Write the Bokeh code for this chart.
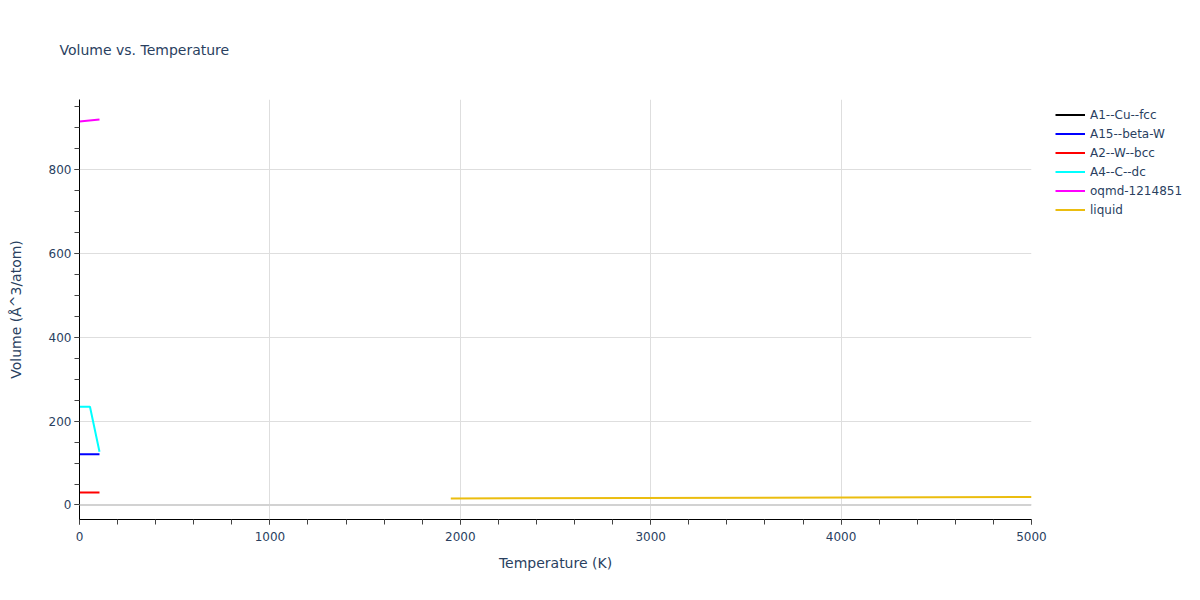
import numpy as np
from bokeh.plotting import figure
from bokeh.models import FixedTicker, Range1d, Span, Legend, LegendItem, ColumnDataSource
from bokeh.embed import file_html
from bokeh.resources import INLINE

# ---- data ----
a1_T = [np.nan]
a1_V = [np.nan]
a15_T = [0, 105]
a15_V = [121, 121]
a2_T = [0, 105]
a2_V = [30, 30]
a4_T = [0, 55, 105]
a4_V = [234, 234, 127]
oqmd_T = [0, 105]
oqmd_V = [914, 919]
liq_T = [1950, 5000]
liq_V = [15.7, 19.0]

series = [
    ("A1--Cu--fcc", a1_T, a1_V, "black"),
    ("A15--beta-W", a15_T, a15_V, "#0000ff"),
    ("A2--W--bcc", a2_T, a2_V, "#ff0000"),
    ("A4--C--dc", a4_T, a4_V, "#00ffff"),
    ("oqmd-1214851", oqmd_T, oqmd_V, "#ff00ff"),
    ("liquid", liq_T, liq_V, "#ebbd0f"),
]

x_major = [0, 1000, 2000, 3000, 4000, 5000]
x_minor = list(range(0, 5001, 200))
y_major = [0, 200, 400, 600, 800]
y_minor = list(range(0, 951, 50))

FONT = "DejaVu Sans"
TXT = "#2a3f5f"

p = figure(output_backend="svg", toolbar_location=None,
           x_range=Range1d(0, 5000), y_range=Range1d(-34.6, 966.6),
           frame_width=952, frame_height=420,
           min_border_left=79, min_border_right=153, min_border_top=99, min_border_bottom=65)

p.title.text = "Volume vs. Temperature"
p.title.text_font = FONT
p.title.text_font_size = "14px"
p.title.text_font_style = "normal"
p.title.text_color = TXT
p.title.offset = -20
p.title.vertical_align = "top"
p.title.standoff = 80

p.background_fill_color = "white"
p.border_fill_color = "white"
p.outline_line_color = None

for ax, maj, mn in ((p.xaxis[0], x_major, x_minor), (p.yaxis[0], y_major, y_minor)):
    ax.ticker = FixedTicker(ticks=maj, minor_ticks=mn)
    ax.axis_line_color = "black"
    ax.axis_line_width = 1
    ax.major_tick_out = 5
    ax.major_tick_in = 0
    ax.minor_tick_out = 5
    ax.minor_tick_in = 0
    ax.major_tick_line_color = "#444444"
    ax.minor_tick_line_color = "#444444"
    ax.major_label_text_font = FONT
    ax.major_label_text_font_size = "12px"
    ax.major_label_text_color = TXT
    ax.axis_label_text_font = FONT
    ax.axis_label_text_font_size = "14px"
    ax.axis_label_text_font_style = "normal"
    ax.axis_label_text_color = TXT

p.xaxis.axis_label = "Temperature (K)"
p.yaxis.axis_label = "Volume (Å^3/atom)"
p.xaxis.major_label_standoff = 7
p.yaxis.major_label_standoff = 3
p.xaxis.axis_label_standoff = 11
p.yaxis.axis_label_standoff = 22

p.xgrid.ticker = FixedTicker(ticks=x_major)
p.ygrid.ticker = FixedTicker(ticks=y_major)
p.xgrid.grid_line_color = "#dedede"
p.ygrid.grid_line_color = "#dedede"

p.add_layout(Span(location=0, dimension="width", line_color="#d2d2d2", line_width=2))

items = []
for name, T, V, col in series:
    src = ColumnDataSource(dict(x=T, y=V))
    r = p.line("x", "y", source=src, line_color=col, line_width=2)
    items.append(LegendItem(label=name, renderers=[r]))

legend = Legend(items=items, location=(24, 300), orientation="vertical",
                glyph_width=30, glyph_height=19, label_height=19, spacing=0,
                label_standoff=5, padding=0, margin=0,
                label_text_font=FONT, label_text_font_size="12px", label_text_color=TXT,
                border_line_color=None, background_fill_alpha=0)
p.add_layout(legend, "right")

open("out.html", "w").write(file_html(p, INLINE))
